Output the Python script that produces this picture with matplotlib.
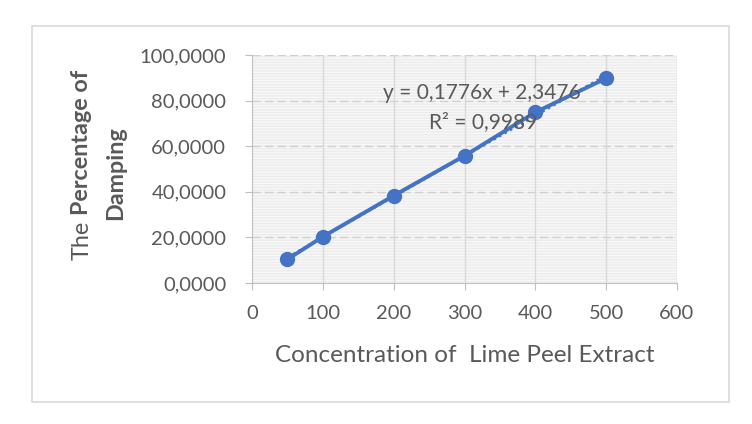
import matplotlib.pyplot as plt
from matplotlib.patches import Rectangle

plt.rcParams['font.family'] = ['Lato', 'DejaVu Sans']

concentration = [50, 100, 200, 300, 400, 500]
damping = [10.4, 20.3, 38.3, 55.8, 74.9, 89.8]
slope, intercept, r2 = 0.1776, 2.3476, 0.9989
x_ticks = [0, 100, 200, 300, 400, 500, 600]
y_ticks = [0, 20, 40, 60, 80, 100]

blue = '#4472C4'
text_gray = '#595959'
W, H = 752, 424

fig = plt.figure(figsize=(W / 100, H / 100), dpi=100)
fig.patches.append(Rectangle((32 / W, 1 - 402 / H), (729 - 32) / W, (402 - 26) / H,
                             transform=fig.transFigure, fill=False, edgecolor='#d9d9d9', lw=1.2))

ax = fig.add_axes([252 / W, 1 - 283 / H, (677 - 252) / W, (283 - 55) / H])
ax.set_facecolor('#f8f8f8')
ax.add_patch(Rectangle((0, 0), 1, 1, transform=ax.transAxes, facecolor='none',
                       edgecolor='#ececec', hatch='------', lw=0, zorder=0))

# gridlines
for y in y_ticks[1:]:
    ax.axhline(y, color='#d0d0d0', lw=1, ls=(0, (6, 3)), zorder=1)
for x in x_ticks[1:]:
    ax.axvline(x, color='#d9d9d9', lw=1, zorder=1)

# linear trendline
tx = [concentration[0], concentration[-1]]
ty = [slope * v + intercept for v in tx]
ax.plot(tx, ty, color=blue, lw=1.8, ls=(0, (1, 1.5)), zorder=2)

ax.plot(concentration, damping, color=blue, lw=2.8, marker='o', markersize=10, zorder=3)

ax.set_xlim(0, 600)
ax.set_ylim(0, 100)
ax.set_xticks(x_ticks)
ax.set_yticks(y_ticks)
ax.set_yticklabels([f'{v:.4f}'.replace('.', ',') for v in y_ticks])
ax.tick_params(axis='both', colors='#bfbfbf', labelcolor=text_gray, labelsize=14.5, length=5)
ax.tick_params(axis='x', pad=11)
ax.tick_params(axis='y', pad=13.5)
for s in ['top', 'right']:
    ax.spines[s].set_visible(False)
for s in ['left', 'bottom']:
    ax.spines[s].set_color('#bfbfbf')

ax.text(325, 83.3, f'y = {slope:.4f}x + {intercept:.4f}'.replace('.', ','),
        ha='center', va='center', fontsize=15, color=text_gray, zorder=4)
ax.text(326, 70.6, f'R² = {r2:.4f}'.replace('.', ','),
        ha='center', va='center', fontsize=15, color=text_gray, zorder=4)

fig.text(465 / W, 1 - 355 / H, 'Concentration of  Lime Peel Extract',
         ha='center', va='center', fontsize=17.5, color=text_gray)

# y label: first line mixes regular and bold, so measure and place the parts
lab_size = 16.8
renderer = fig.canvas.get_renderer()
t_the = fig.text(82 / W, 0, 'The', rotation=90, ha='center', va='bottom',
                 fontsize=lab_size, color=text_gray)
t_pct = fig.text(82 / W, 0, 'Percentage of', rotation=90, ha='center', va='bottom',
                 fontsize=lab_size, color=text_gray, fontweight='bold')
h_the = t_the.get_window_extent(renderer).height
h_pct = t_pct.get_window_extent(renderer).height
gap = 5
start = (H - 165) - (h_the + gap + h_pct) / 2
t_the.set_y(start / H)
t_pct.set_y((start + h_the + gap) / H)

fig.text(116 / W, 1 - 173 / H, 'Damping', rotation=90, ha='center', va='center',
         fontsize=lab_size, color=text_gray, fontweight='bold')

fig.savefig('out.png', dpi=100)
